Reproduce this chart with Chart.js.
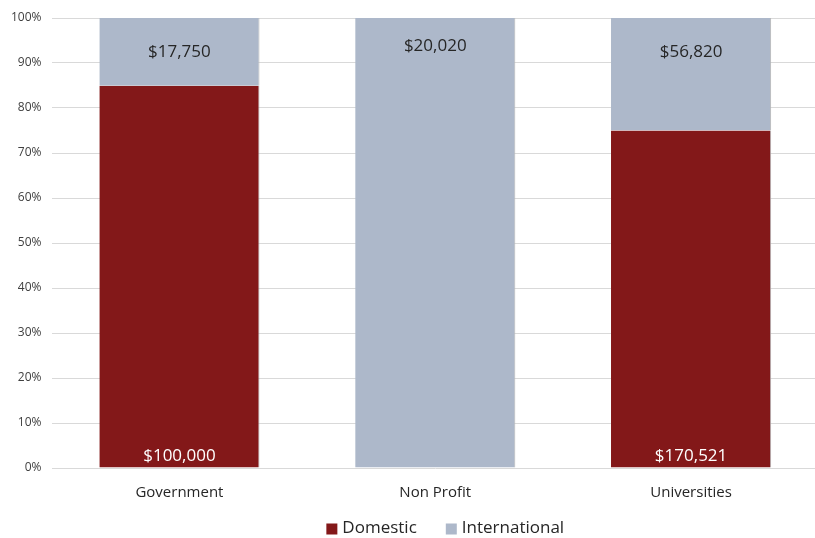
<!DOCTYPE html>
<html>
<head>
<meta charset="utf-8">
<script src="https://cdn.jsdelivr.net/npm/chart.js@4/dist/chart.umd.min.js"></script>
<style>
  html, body { margin: 0; padding: 0; background: #fff; overflow: hidden; }
  #wrap { width: 819px; height: 538px; }
</style>
</head>
<body>
<div id="wrap"><canvas id="c" width="819" height="538"></canvas></div>
<script>
const categories = ["Government", "Non Profit", "Universities"];
const domesticDollars = [100000, 0, 170521];
const internationalDollars = [17750, 20020, 56820];
const yTickLabels = ["0%", "10%", "20%", "30%", "40%", "50%", "60%", "70%", "80%", "90%", "100%"];

const totals = categories.map((_, i) => domesticDollars[i] + internationalDollars[i]);
const domesticPct = domesticDollars.map((v, i) => v / totals[i] * 100);
const internationalPct = internationalDollars.map((v, i) => v / totals[i] * 100);

const FONT = "'Open Sans', 'Noto Sans', sans-serif";
const fmt = v => "$" + v.toLocaleString("en-US");

const labelPlugin = {
  id: "valueLabels",
  afterDatasetsDraw(chart) {
    const ctx = chart.ctx;
    ctx.save();
    ctx.font = "17px " + FONT;
    ctx.textAlign = "center";
    ctx.textBaseline = "middle";
    chart.data.datasets.forEach((ds, di) => {
      const meta = chart.getDatasetMeta(di);
      meta.data.forEach((bar, i) => {
        const raw = ds.rawDollars[i];
        if (!raw) return;
        if (di === 0) {
          ctx.fillStyle = "#ffffff";
          ctx.fillText(fmt(raw), bar.x, bar.base - 11);
        } else {
          ctx.fillStyle = "#262626";
          ctx.fillText(fmt(raw), bar.x, bar.y + ds.labelOffsets[i]);
        }
      });
    });
    ctx.restore();
  }
};

const legendPlugin = {
  id: "bottomLegend",
  afterDraw(chart) {
    const ctx = chart.ctx;
    ctx.save();
    ctx.font = "17px " + FONT;
    ctx.textBaseline = "middle";
    const box = 11, gap = 5, itemGap = 29;
    const items = chart.data.datasets.map(ds => ({ text: ds.label, color: ds.backgroundColor, w: box + gap + ctx.measureText(ds.label).width }));
    const total = items.reduce((s, it) => s + it.w, 0) + itemGap * (items.length - 1);
    const cx = (chart.chartArea.left + chart.chartArea.right) / 2 + 10;
    const y = 528;
    let x = cx - total / 2;
    items.forEach(it => {
      ctx.fillStyle = it.color;
      ctx.fillRect(x, y - box / 2 + 1, box, box);
      ctx.fillStyle = "#262626";
      ctx.textAlign = "left";
      ctx.fillText(it.text, x + box + gap, y);
      x += it.w + itemGap;
    });
    ctx.restore();
  }
};

new Chart(document.getElementById("c"), {
  type: "bar",
  data: {
    labels: categories,
    datasets: [
      {
        label: "Domestic",
        data: domesticPct,
        rawDollars: domesticDollars,
        backgroundColor: "#831819",
        borderColor: "#b5b5b5",
        borderWidth: { right: 1 },
        borderSkipped: false,
        barPercentage: 0.626,
        categoryPercentage: 1
      },
      {
        label: "International",
        data: internationalPct,
        rawDollars: internationalDollars,
        labelOffsets: [34, 28, 34],
        backgroundColor: "#adb8ca",
        borderColor: "#b5b5b5",
        borderWidth: { right: 1 },
        borderSkipped: false,
        barPercentage: 0.626,
        categoryPercentage: 1
      }
    ]
  },
  options: {
    responsive: false,
    animation: false,
    layout: { padding: { top: 18, left: 1, right: 0, bottom: 28 } },
    scales: {
      x: {
        stacked: true,
        grid: { display: false },
        border: { display: false },
        ticks: { color: "#262626", font: { family: FONT, size: 15 }, padding: 8 }
      },
      y: {
        stacked: true,
        min: 0,
        max: 100,
        afterBuildTicks(axis) {
          axis.ticks = yTickLabels.map((_, i) => ({ value: i * 10 }));
        },
        grid: { color: "#d9d9d9", lineWidth: 1, drawTicks: false },
        border: { display: false },
        ticks: {
          color: "#404040",
          font: { family: FONT, size: 12 },
          padding: 10,
          callback: (v, i) => yTickLabels[i]
        }
      }
    },
    plugins: {
      legend: { display: false },
      tooltip: { enabled: false }
    }
  },
  plugins: [labelPlugin, legendPlugin]
});
</script>
</body>
</html>
